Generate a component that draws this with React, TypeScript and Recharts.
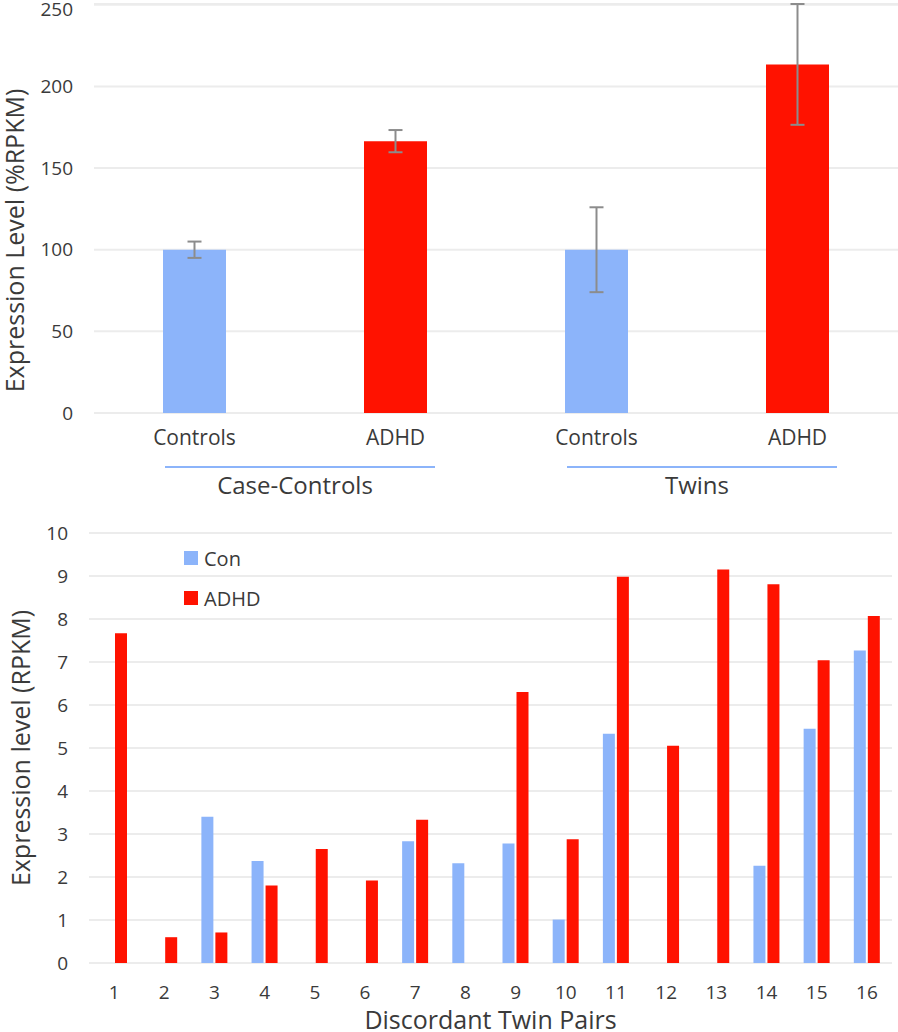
import React from 'react';
import { BarChart, Bar, XAxis, YAxis, CartesianGrid, ErrorBar, Cell, Legend } from 'recharts';

const FONT = "'Open Sans', sans-serif";
const TEXT = '#3a3a3a';
const BLUE = '#8CB4FA';
const RED = '#FF1200';
const GRID = '#ececec';
const ERR = '#8c8c8c';

// Top chart data
const topCategories = ['Controls', 'ADHD', 'Controls', 'ADHD'];
const topGroups = ['Case-Controls', 'Case-Controls', 'Twins', 'Twins'];
const topValues = [100, 166.5, 100, 213.5];
const topErrors = [5, 6.8, 26, 37];
const topTicks = [0, 50, 100, 150, 200, 250];

// Bottom chart data
const pairLabels = ['1', '2', '3', '4', '5', '6', '7', '8', '9', '10', '11', '12', '13', '14', '15', '16'];
const seriesNames = ['Con', 'ADHD'];
const conValues = [0, 0, 3.4, 2.37, 0, 0, 2.83, 2.32, 2.78, 1.01, 5.33, 0, 0, 2.26, 5.45, 7.27];
const adhdValues = [7.67, 0.6, 0.71, 1.8, 2.65, 1.92, 3.33, 0, 6.3, 2.88, 8.98, 5.05, 9.15, 8.81, 7.04, 8.07];
const bottomTicks = [0, 1, 2, 3, 4, 5, 6, 7, 8, 9, 10];

const topData = topCategories.map((name, i) => ({
  name,
  group: topGroups[i],
  value: topValues[i],
  err: topErrors[i],
}));

const bottomData = pairLabels.map((pair, i) => ({
  pair,
  con: conValues[i],
  adhd: adhdValues[i],
}));

const YTick = (props: any) => {
  const { x, y, payload } = props;
  return (
    <text x={x} y={y} dy="0.35em" textAnchor="end" fill={TEXT} fontFamily={FONT} fontSize={19}>
      {payload.value}
    </text>
  );
};

const makeXTick = (size: number) => (props: any) => {
  const { x, y, payload } = props;
  return (
    <text x={x} y={y} dy="0.71em" textAnchor="middle" fill={TEXT} fontFamily={FONT} fontSize={size}>
      {payload.value}
    </text>
  );
};

const CatTick = makeXTick(21);
const PairTick = makeXTick(19);

const GroupTick = (props: any) => {
  const { x, y, payload } = props;
  return (
    <g>
      <line x1={x - 130} x2={x + 140} y1={y + 14} y2={y + 14} stroke={BLUE} strokeWidth={2} />
      <text x={x} y={y + 41} textAnchor="middle" fill={TEXT} fontFamily={FONT} fontSize={24}>
        {payload.value}
      </text>
    </g>
  );
};

const makeYLabel = (text: string, cxOffset: number, cyShift: number) => (props: any) => {
  const vb = props.viewBox || {};
  const cx = (vb.x || 0) + cxOffset;
  const cy = (vb.y || 0) + (vb.height || 0) / 2 + cyShift;
  return (
    <text
      x={cx}
      y={cy}
      transform={`rotate(-90, ${cx}, ${cy})`}
      textAnchor="middle"
      dominantBaseline="central"
      fill={TEXT}
      fontFamily={FONT}
      fontSize={25}
    >
      {text}
    </text>
  );
};

const TopYLabel = makeYLabel('Expression Level (%RPKM)', 14, 32);
const BottomYLabel = makeYLabel('Expression level (RPKM)', 20, 0);

const XTitle = (props: any) => {
  const vb = props.viewBox || {};
  const cx = (vb.x || 0) + (vb.width || 0) / 2;
  return (
    <text x={cx} y={(vb.y || 0) + 66} textAnchor="middle" fill={TEXT} fontFamily={FONT} fontSize={25}>
      Discordant Twin Pairs
    </text>
  );
};

const LegendContent = (props: any) => {
  const payload = [...(props.payload || [])].sort(
    (a: any, b: any) => seriesNames.indexOf(a.value) - seriesNames.indexOf(b.value)
  );
  return (
    <div style={{ fontFamily: FONT, fontSize: 20, color: TEXT }}>
      {payload.map((e: any, i: number) => (
        <div key={i} style={{ display: 'flex', alignItems: 'center', height: 40 }}>
          <span style={{ display: 'inline-block', width: 14, height: 14, background: e.color, marginRight: 6 }} />
          <span>{e.value}</span>
        </div>
      ))}
    </div>
  );
};

export default function App() {
  return (
    <div style={{ position: 'absolute', left: 0, top: 0, width: 898, height: 1032, background: '#fff' }}>
      <BarChart width={898} height={510} data={topData} margin={{ top: 4, right: 0, bottom: 0, left: 0 }}>
        <CartesianGrid xAxisId="cat" vertical={false} stroke={GRID} strokeWidth={2} />
        <XAxis
          xAxisId="cat"
          dataKey="name"
          axisLine={false}
          tickLine={false}
          tickSize={0}
          tickMargin={17}
          height={40}
          interval={0}
          tick={<CatTick />}
        />
        <XAxis
          xAxisId="grp"
          dataKey="group"
          allowDuplicatedCategory={false}
          axisLine={false}
          tickLine={false}
          tickSize={0}
          tickMargin={0}
          height={57}
          interval={0}
          tick={<GroupTick />}
        />
        <YAxis
          domain={[0, 250]}
          ticks={topTicks}
          width={94}
          axisLine={false}
          tickLine={false}
          tickSize={0}
          tickMargin={21}
          tick={<YTick />}
          label={<TopYLabel />}
        />
        <Bar xAxisId="cat" dataKey="value" barSize={63} isAnimationActive={false}>
          {topData.map((d, i) => (
            <Cell key={i} fill={d.name === 'Controls' ? BLUE : RED} />
          ))}
          <ErrorBar dataKey="err" width={7} stroke={ERR} strokeWidth={2} direction="y" />
        </Bar>
      </BarChart>
      <BarChart
        width={898}
        height={522}
        data={bottomData}
        margin={{ top: 23, right: 6, bottom: 0, left: 0 }}
        barGap={2}
      >
        <CartesianGrid vertical={false} stroke={GRID} strokeWidth={2} />
        <XAxis
          dataKey="pair"
          axisLine={false}
          tickLine={false}
          tickSize={0}
          tickMargin={23}
          height={69}
          interval={0}
          tick={<PairTick />}
          label={<XTitle />}
        />
        <YAxis
          domain={[0, 10]}
          ticks={bottomTicks}
          width={89}
          axisLine={false}
          tickLine={false}
          tickSize={0}
          tickMargin={21}
          tick={<YTick />}
          label={<BottomYLabel />}
        />
        <Legend
          layout="vertical"
          align="center"
          verticalAlign="middle"
          itemSorter={null as any}
          content={<LegendContent />}
          wrapperStyle={{ left: 184, top: 28, width: 'auto', height: 'auto' }}
        />
        <Bar dataKey="con" name="Con" fill={BLUE} barSize={12} isAnimationActive={false} />
        <Bar dataKey="adhd" name="ADHD" fill={RED} barSize={12} isAnimationActive={false} />
      </BarChart>
    </div>
  );
}
